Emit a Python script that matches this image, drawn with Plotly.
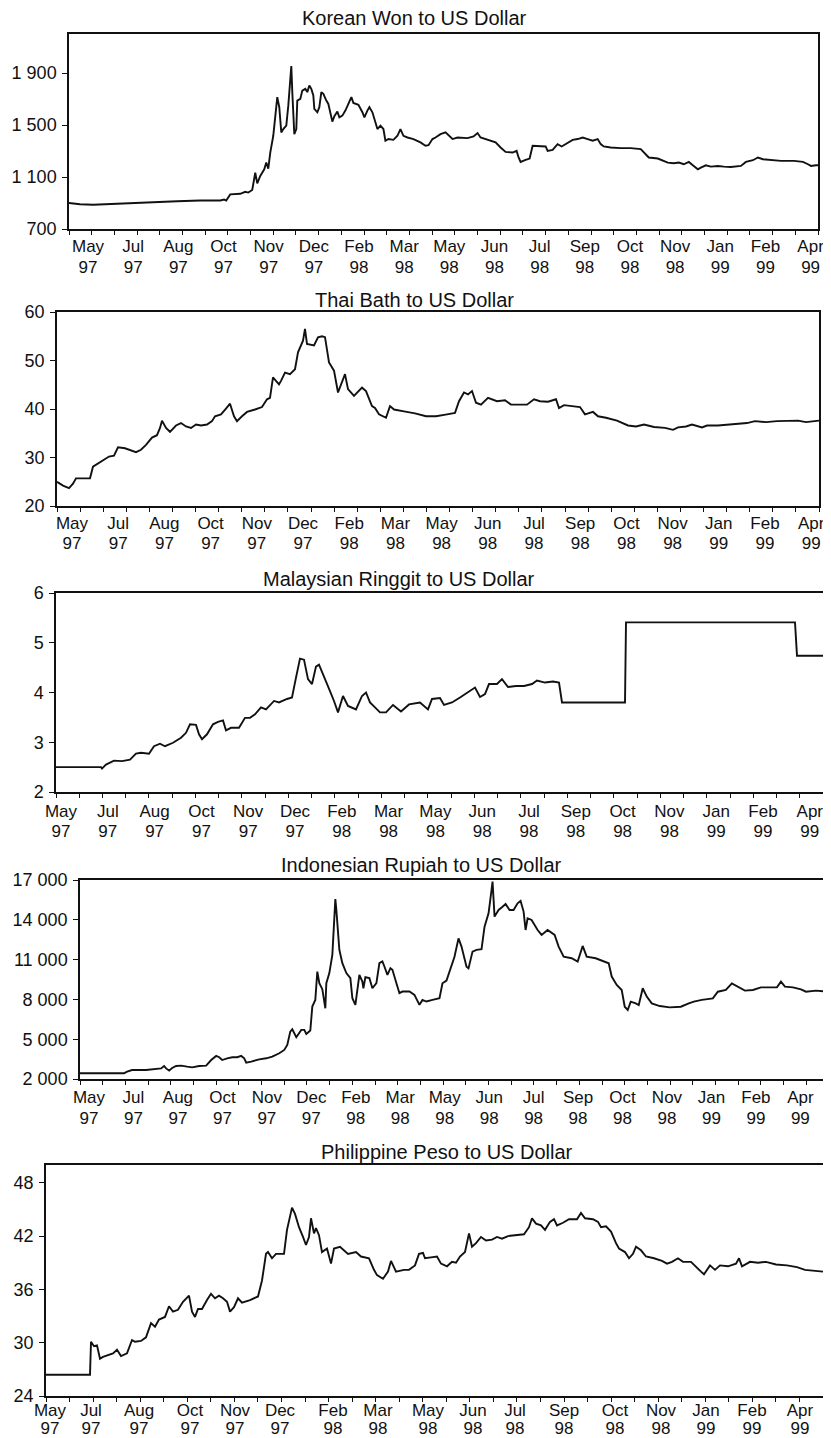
import plotly.graph_objects as go

# ---------------- data ----------------
month_labels = ["May", "Jul", "Aug", "Oct", "Nov", "Dec", "Feb", "Mar", "May",
                "Jun", "Jul", "Sep", "Oct", "Nov", "Jan", "Feb", "Apr"]
year_labels = ["97", "97", "97", "97", "97", "97", "98", "98", "98",
               "98", "98", "98", "98", "98", "99", "99", "99"]

# time index (approx. days from start of period) and exchange rate
won_t = [0, 11, 24, 41, 58, 81, 108, 131, 151, 155, 157, 161, 171, 176, 179, 183, 184, 186, 188, 191,
         195, 197, 199, 201, 204, 206, 208, 210, 212, 214, 217, 219, 221, 222, 223, 225, 227, 228, 231, 233,
         236, 238, 240, 242, 244, 245, 248, 250, 252, 254, 257, 259, 263, 265, 268, 270, 273, 276, 279, 282,
         284, 289, 293, 295, 298, 300, 303, 306, 308, 311, 314, 316, 319, 324, 328, 331, 334, 338, 344, 351,
         356, 359, 363, 366, 371, 376, 383, 388, 398, 404, 408, 411, 416, 421, 426, 431, 436, 443, 447, 449,
         451, 456, 460, 463, 469, 476, 478, 483, 486, 488, 492, 496, 503, 508, 513, 518, 523, 528, 531, 534,
         541, 551, 561, 571, 576, 579, 588, 593, 598, 604, 609, 614, 619, 623, 628, 631, 636, 641, 648, 654,
         661, 671, 676, 683, 688, 693, 701, 711, 724, 733, 738, 741, 746, 748]
won_v = [900, 890, 887, 893, 900, 906, 914, 919, 919, 926, 919, 966, 971, 986, 980, 1000, 1040, 1133, 1051, 1108,
         1159, 1211, 1164, 1288, 1417, 1546, 1714, 1637, 1443, 1469, 1495, 1649, 1830, 1954, 1753, 1430, 1469, 1688, 1701, 1765,
         1778, 1753, 1804, 1778, 1727, 1624, 1598, 1637, 1753, 1740, 1688, 1662, 1526, 1567, 1603, 1559, 1572, 1611, 1662, 1714,
         1670, 1655, 1598, 1559, 1611, 1637, 1598, 1521, 1469, 1495, 1469, 1379, 1392, 1386, 1417, 1469, 1417, 1404, 1392, 1366,
         1340, 1345, 1392, 1404, 1430, 1443, 1392, 1404, 1399, 1412, 1438, 1404, 1392, 1379, 1366, 1327, 1293, 1288, 1301, 1250,
         1216, 1231, 1242, 1340, 1340, 1335, 1301, 1309, 1335, 1353, 1335, 1353, 1386, 1392, 1404, 1392, 1379, 1392, 1353, 1335,
         1327, 1322, 1322, 1314, 1275, 1250, 1242, 1224, 1211, 1206, 1211, 1198, 1216, 1190, 1159, 1172, 1190, 1180, 1185, 1180,
         1177, 1185, 1216, 1229, 1250, 1237, 1229, 1224, 1224, 1216, 1198, 1185, 1190, 1190]

baht_t = [0, 6, 12, 16, 19, 33, 36, 41, 47, 52, 57, 61, 68, 73, 79, 84, 89, 95, 100, 103,
          105, 109, 113, 119, 124, 129, 134, 139, 144, 150, 155, 158, 164, 169, 173, 177, 180, 185, 190, 198,
          205, 210, 213, 216, 220, 222, 224, 228, 233, 238, 241, 246, 248, 250, 257, 261, 265, 268, 272, 277,
          281, 285, 288, 291, 297, 305, 309, 315, 318, 322, 329, 333, 337, 347, 358, 369, 379, 390, 398, 402,
          407, 411, 415, 419, 424, 431, 440, 448, 454, 462, 470, 477, 483, 491, 499, 502, 507, 515, 523, 528,
          536, 541, 549, 560, 571, 579, 587, 597, 608, 616, 621, 629, 635, 645, 650, 661, 672, 682, 690, 698,
          709, 720, 730, 741, 749, 757, 762]
baht_v = [25.0, 24.2, 23.7, 24.6, 25.7, 25.7, 28.1, 28.8, 29.5, 30.2, 30.4, 32.1, 31.9, 31.6, 31.1, 31.6, 32.6, 34.1, 34.6, 36.1,
          37.6, 36.1, 35.3, 36.6, 37.1, 36.4, 36.1, 36.8, 36.6, 36.8, 37.5, 38.5, 38.9, 40.1, 41.1, 38.5, 37.5, 38.5, 39.4, 39.9,
          40.4, 42.0, 42.3, 46.5, 45.4, 45.1, 45.8, 47.5, 47.2, 48.2, 51.7, 54.1, 56.5, 53.4, 53.1, 54.8, 55.0, 54.8, 49.6, 47.9,
          43.4, 45.8, 47.2, 44.1, 42.7, 44.4, 43.7, 40.6, 40.2, 38.9, 38.2, 40.6, 39.9, 39.5, 39.1, 38.5, 38.5, 38.9, 39.2, 41.6,
          43.4, 43.0, 43.7, 41.3, 40.9, 42.3, 41.6, 41.8, 40.9, 40.9, 40.9, 42.0, 41.6, 41.5, 42.0, 40.2, 40.8, 40.6, 40.4, 38.9,
          39.4, 38.5, 38.2, 37.6, 36.6, 36.4, 36.8, 36.3, 36.1, 35.7, 36.2, 36.4, 36.8, 36.2, 36.6, 36.6, 36.8, 36.9, 37.1, 37.5,
          37.3, 37.5, 37.6, 37.6, 37.3, 37.5, 37.6]

ringgit_t = [0, 45, 46, 50, 58, 66, 74, 80, 85, 93, 98, 104, 109, 117, 125, 130, 134, 140, 143, 146,
             151, 157, 162, 167, 170, 175, 183, 189, 194, 199, 205, 210, 218, 223, 231, 236, 240, 244, 248, 252,
             256, 260, 263, 268, 274, 278, 282, 287, 292, 300, 306, 310, 314, 319, 324, 330, 337, 345, 353, 364,
             372, 376, 384, 388, 396, 404, 412, 419, 424, 429, 433, 441, 446, 452, 460, 468, 476, 481, 489, 497,
             503, 506, 569, 570, 739, 741, 767]
ringgit_v = [2.50, 2.50, 2.47, 2.55, 2.63, 2.62, 2.65, 2.77, 2.79, 2.77, 2.92, 2.97, 2.92, 2.99, 3.09, 3.19, 3.36, 3.35, 3.16, 3.06,
             3.16, 3.36, 3.41, 3.44, 3.24, 3.29, 3.29, 3.49, 3.49, 3.56, 3.70, 3.66, 3.83, 3.80, 3.87, 3.90, 4.30, 4.68, 4.66, 4.27,
             4.17, 4.52, 4.56, 4.30, 4.03, 3.83, 3.60, 3.93, 3.73, 3.66, 3.93, 4.00, 3.80, 3.70, 3.60, 3.60, 3.75, 3.62, 3.76, 3.80,
             3.66, 3.87, 3.89, 3.75, 3.80, 3.90, 4.00, 4.10, 3.91, 3.97, 4.17, 4.17, 4.27, 4.11, 4.13, 4.13, 4.17, 4.24, 4.20, 4.22,
             4.20, 3.80, 3.80, 5.41, 5.41, 4.74, 4.74]

rupiah_t = [0, 44, 47, 52, 66, 77, 81, 84, 86, 89, 92, 96, 101, 107, 112, 119, 126, 131, 136, 139,
            142, 147, 152, 157, 161, 164, 166, 171, 179, 186, 192, 199, 204, 207, 210, 212, 216, 221, 224, 226,
            228, 230, 232, 235, 237, 239, 242, 245, 246, 249, 252, 253, 255, 256, 259, 262, 266, 270, 272, 275,
            277, 279, 282, 283, 285, 289, 292, 296, 299, 302, 304, 307, 310, 312, 316, 319, 322, 329, 334, 339,
            342, 346, 352, 359, 362, 366, 374, 378, 381, 386, 388, 392, 396, 401, 404, 408, 411, 412, 414, 418,
            422, 425, 429, 433, 437, 440, 443, 445, 447, 451, 457, 461, 467, 474, 478, 483, 491, 497, 502, 506,
            515, 523, 528, 531, 536, 541, 544, 547, 550, 555, 558, 562, 566, 571, 579, 589, 600, 608, 613, 621,
            632, 637, 645, 651, 658, 664, 672, 680, 696, 700, 704, 712, 720, 725, 735, 748]
rupiah_v = [2430, 2430, 2550, 2680, 2680, 2730, 2800, 2980, 2800, 2630, 2830, 2980, 3010, 2930, 2880, 2980, 3010, 3430, 3740, 3640,
            3430, 3560, 3640, 3640, 3740, 3560, 3230, 3310, 3480, 3560, 3690, 3940, 4190, 4570, 5570, 5750, 5150, 5700, 5700, 5400,
            5500, 5650, 7460, 7960, 10100, 9220, 8770, 7330, 9220, 9980, 11360, 12490, 15560, 14760, 11740, 10730, 9980, 9600, 8090, 7590,
            8970, 9850, 9350, 8840, 9670, 9600, 8840, 9220, 10730, 10860, 10480, 9850, 10350, 10230, 9220, 8470, 8590, 8590, 8340, 7590,
            7960, 7840, 7960, 8090, 9220, 9420, 11220, 12600, 11980, 10470, 10340, 11600, 11730, 11780, 13480, 14490, 16250, 16880, 14240, 14740,
            14990, 15190, 14740, 14740, 15240, 15420, 14620, 13230, 14110, 13990, 13230, 12860, 13230, 12860, 11980, 11220, 11100, 10850, 12030, 11220,
            11100, 10850, 10720, 9720, 9090, 8710, 7450, 7200, 7830, 7700, 7580, 8840, 8210, 7700, 7500, 7400, 7450, 7700, 7830, 7960,
            8080, 8580, 8710, 9210, 8910, 8660, 8710, 8910, 8910, 9340, 8960, 8910, 8760, 8580, 8660, 8580]

peso_t = [0, 44, 45, 48, 51, 54, 57, 63, 67, 71, 75, 81, 86, 89, 95, 100, 105, 109, 113, 119,
          123, 127, 132, 137, 143, 146, 149, 152, 156, 161, 165, 169, 173, 177, 181, 184, 188, 192, 196, 204,
          212, 216, 220, 222, 226, 230, 238, 241, 244, 246, 249, 253, 257, 260, 263, 265, 268, 270, 273, 276,
          281, 285, 288, 294, 302, 310, 315, 323, 328, 331, 337, 342, 345, 350, 358, 363, 369, 373, 377, 379,
          385, 391, 395, 401, 406, 410, 414, 419, 423, 426, 430, 435, 440, 446, 451, 456, 462, 470, 478, 483,
          486, 490, 495, 499, 504, 508, 511, 517, 523, 531, 535, 539, 547, 552, 555, 560, 565, 570, 573, 579,
          583, 587, 590, 595, 600, 608, 616, 621, 626, 632, 637, 645, 650, 655, 658, 664, 669, 674, 682, 690,
          693, 696, 704, 712, 720, 730, 741, 751, 759, 767, 777]
peso_v = [26.4, 26.4, 30.1, 29.6, 29.7, 28.2, 28.4, 28.6, 28.8, 29.2, 28.5, 28.8, 30.3, 30.1, 30.2, 30.6, 32.2, 31.8, 32.6, 32.9,
          34.1, 33.5, 33.7, 34.6, 35.3, 33.5, 32.9, 33.8, 33.8, 34.8, 35.5, 35.0, 35.3, 35.0, 34.6, 33.5, 34.0, 35.0, 34.5, 34.8,
          35.2, 37.0, 40.0, 40.2, 39.5, 40.0, 40.0, 42.7, 44.0, 45.2, 44.5, 43.0, 41.9, 41.0, 41.9, 44.0, 42.3, 42.9, 42.1, 40.2,
          40.6, 38.9, 40.6, 40.8, 40.0, 40.2, 39.7, 39.5, 38.2, 37.6, 37.2, 38.0, 39.2, 38.0, 38.2, 38.2, 38.7, 40.0, 40.1, 39.5,
          39.6, 39.7, 38.9, 38.6, 39.1, 39.0, 39.7, 40.2, 42.3, 40.8, 41.2, 41.9, 41.5, 41.6, 41.9, 41.7, 42.0, 42.1, 42.2, 43.0,
          44.0, 43.4, 43.2, 42.7, 43.6, 43.9, 43.2, 43.5, 43.9, 43.9, 44.6, 44.0, 43.9, 43.6, 43.0, 43.1, 42.5, 41.2, 40.6, 40.2,
          39.5, 40.0, 40.8, 40.4, 39.7, 39.5, 39.2, 38.9, 39.1, 39.5, 39.1, 39.1, 38.5, 38.0, 37.7, 38.7, 38.2, 38.7, 38.6, 38.9,
          39.5, 38.6, 39.1, 39.0, 39.1, 38.8, 38.7, 38.5, 38.2, 38.1, 38.0]

# ---------------- layout configuration ----------------
PAGE_W, PAGE_H = 831, 1438      # browser window
OFF = 8                         # default body margin of the html page
W, H = PAGE_W - OFF, PAGE_H - OFF
FONT = "Liberation Sans, Arial, Helvetica, sans-serif"
INK = "#111111"
MINOR_LEN = 4


def px(x):
    return (x - OFF) / W


def py(y):
    return 1 - (y - OFF) / H


# stand = (standoff of month row, distance between month row and year row)
panels = [
    dict(title="Korean Won to US Dollar", t=won_t, v=won_v, box=(69, 818, 34, 229), span=748,
         yrange=[700, 2200], yvals=[700, 1100, 1500, 1900], ytext=["700", "1 100", "1 500", "1 900"],
         lab0=19, labstep=45.1, title_xy=(414, 18), stand=(1, 21)),
    dict(title="Thai Bath to US Dollar", t=baht_t, v=baht_v, box=(57, 819, 312, 506), span=762,
         yrange=[20, 60], yvals=[20, 30, 40, 50, 60], ytext=["20", "30", "40", "50", "60"],
         lab0=15, labstep=46.2, title_xy=(414, 300), stand=(1, 20)),
    dict(title="Malaysian Ringgit to US Dollar", t=ringgit_t, v=ringgit_v, box=(56, 823, 593, 792), span=767,
         yrange=[2, 6], yvals=[2, 3, 4, 5, 6], ytext=["2", "3", "4", "5", "6"],
         lab0=5, labstep=46.8, title_xy=(399, 579), stand=(3, 20)),
    dict(title="Indonesian Rupiah to US Dollar", t=rupiah_t, v=rupiah_v, box=(80, 829, 880, 1079), span=748,
         yrange=[2000, 17000], yvals=[2000, 5000, 8000, 11000, 14000, 17000],
         ytext=["2 000", "5 000", "8 000", "11 000", "14 000", "17 000"],
         lab0=9, labstep=44.4, title_xy=(421, 865), stand=(2, 21)),
    dict(title="Philippine Peso to US Dollar", t=peso_t, v=peso_v, box=(46, 823, 1165, 1396), span=777,
         yrange=[24, 50], yvals=[24, 30, 36, 42, 48], ytext=["24", "30", "36", "42", "48"],
         labpos=[4, 45, 93, 144, 189, 234, 287, 332, 382, 427, 469, 518, 569, 615, 660, 706, 754],
         title_xy=(447, 1152), stand=(-2, 18)),
]

fig = go.Figure()
layout = {}
annotations = []
n = len(panels)

for i, p in enumerate(panels, start=1):
    assert len(p["t"]) == len(p["v"]), (p["title"], len(p["t"]), len(p["v"]))
    sfx = "" if i == 1 else str(i)
    xa, ya = "x" + sfx, "y" + sfx
    yid = str(n + i)
    xyear = "x" + yid
    fig.add_trace(go.Scatter(x=p["t"], y=p["v"], mode="lines",
                             line=dict(color=INK, width=1.9),
                             xaxis=xa, yaxis=ya, showlegend=False, hoverinfo="skip"))
    # empty trace so that the year-label axis forms a subplot and gets drawn
    fig.add_trace(go.Scatter(x=[], y=[], mode="lines", xaxis=xyear, yaxis=ya,
                             showlegend=False, hoverinfo="skip"))
    x0, x1, y0, y1 = p["box"]
    span = p["span"]
    if "labpos" in p:
        labpos = p["labpos"]
    else:
        labpos = [p["lab0"] + k * p["labstep"] for k in range(len(month_labels))]
    s_month, gap = p["stand"]
    s_year = s_month + MINOR_LEN + gap
    # month row (main axis, carries the frame and the small ticks)
    layout["xaxis" + sfx] = dict(
        domain=[px(x0), px(x1)], range=[0, span], anchor=ya,
        tickmode="array", tickvals=labpos, ticktext=month_labels, ticks="",
        ticklabelstandoff=s_month,
        tickfont=dict(family=FONT, size=17, color=INK),
        showline=True, mirror=True, linecolor=INK, linewidth=1.5,
        showgrid=False, zeroline=False, fixedrange=True,
        minor=dict(ticks="outside", ticklen=MINOR_LEN, tickwidth=1, tickcolor=INK,
                   tick0=0, dtick=span / 33, showgrid=False),
    )
    # year row (overlaying axis sharing the same scale)
    layout["xaxis" + yid] = dict(
        overlaying=xa, range=[0, span], anchor=ya, side="bottom",
        tickmode="array", tickvals=labpos, ticktext=year_labels, ticks="",
        ticklabelstandoff=s_year, showticklabels=True,
        tickfont=dict(family=FONT, size=17, color=INK),
        showline=False, showgrid=False, zeroline=False, fixedrange=True,
    )
    layout["yaxis" + sfx] = dict(
        domain=[py(y1), py(y0)], range=p["yrange"], anchor=xa,
        tickmode="array", tickvals=p["yvals"], ticktext=p["ytext"],
        ticks="outside", ticklen=5, tickwidth=1, tickcolor=INK,
        ticklabelstandoff=2,
        tickfont=dict(family=FONT, size=18, color=INK),
        showline=True, mirror=True, linecolor=INK, linewidth=1.5,
        showgrid=False, zeroline=False, fixedrange=True,
    )
    tx, ty = p["title_xy"]
    annotations.append(dict(text=p["title"], x=px(tx), y=py(ty), xref="paper", yref="paper",
                            xanchor="center", yanchor="middle", showarrow=False,
                            font=dict(family=FONT, size=20, color=INK)))

fig.update_layout(
    width=W, height=H,
    margin=dict(l=0, r=0, t=0, b=0, pad=0, autoexpand=False),
    paper_bgcolor="white", plot_bgcolor="white",
    font=dict(family=FONT, size=17, color=INK),
    annotations=annotations, showlegend=False,
    **layout,
)

fig.write_html("out.html")
